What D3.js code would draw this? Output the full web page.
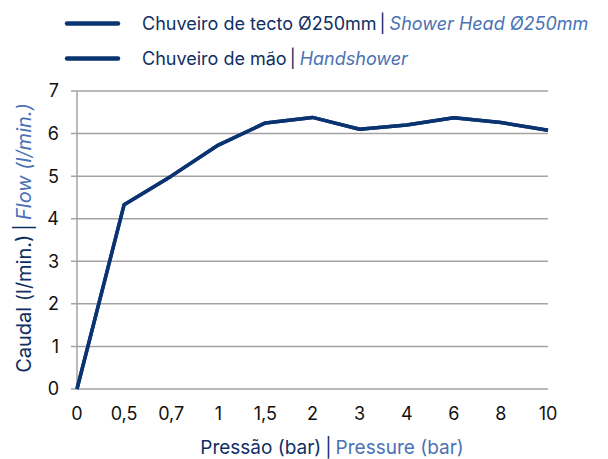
<!DOCTYPE html>
<html>
<head>
<meta charset="utf-8">
<script src="https://cdn.jsdelivr.net/npm/d3@7"></script>
<style>
  body { margin: 0; background: #fff; }
  text { font-family: "Inter", "Roboto", sans-serif; }
</style>
</head>
<body>
<div class="chart-box"></div>
<script>
// chart data
const pressures = ["0", "0,5", "0,7", "1", "1,5", "2", "3", "4", "6", "8", "10"];
const showerHead = [0, 4.33, 5.0, 5.73, 6.25, 6.38, 6.1, 6.2, 6.37, 6.26, 6.08];
const handShower = [0, 4.33, 5.0, 5.73, 6.25, 6.38, 6.1, 6.2, 6.37, 6.26, 6.08];
const yTicks = [0, 1, 2, 3, 4, 5, 6, 7];

const dark = "#0f2f63";
const light = "#4a72b4";
const lineColor = "#0a3471";

const svg = d3.select(".chart-box").append("svg")
    .attr("width", 608)
    .attr("height", 459);

const xScale = d3.scalePoint()
    .domain(pressures)
    .range([77, 548]);
const yScale = d3.scaleLinear()
    .domain([0, 7])
    .range([389, 91]);

//grid lines
svg.append("g")
    .selectAll("line")
    .data(yTicks)
    .enter().append("line")
    .attr("x1", 71)
    .attr("x2", 548)
    .attr("y1", d => yScale(d))
    .attr("y2", d => yScale(d))
    .attr("stroke", "#a3a3a3")
    .attr("stroke-width", 1.5);

//y axis line
svg.append("line")
    .attr("x1", 77).attr("x2", 77)
    .attr("y1", yScale(7)).attr("y2", yScale(0))
    .attr("stroke", "#a3a3a3")
    .attr("stroke-width", 1.5);

//y labels
svg.append("g")
    .selectAll("text")
    .data(yTicks)
    .enter().append("text")
    .attr("x", 59)
    .attr("y", d => yScale(d))
    .attr("dy", "0.36em")
    .attr("text-anchor", "end")
    .attr("font-size", "18px")
    .attr("fill", "#111")
    .text(d => d);

//x labels
svg.append("g")
    .selectAll("text")
    .data(pressures)
    .enter().append("text")
    .attr("x", d => xScale(d))
    .attr("y", 420)
    .attr("text-anchor", "middle")
    .attr("font-size", "18px")
    .attr("fill", "#111")
    .text(d => d);

//lines
const line = d3.line()
    .x((d, i) => xScale(pressures[i]))
    .y(d => yScale(d));

[showerHead, handShower].forEach(s => {
    svg.append("path")
        .datum(s)
        .attr("d", line)
        .attr("fill", "none")
        .attr("stroke", lineColor)
        .attr("stroke-width", 3.5)
        .attr("stroke-linejoin", "round");
});

//legend
const legend = [
    { pt: "Chuveiro de tecto Ø250mm", en: "Shower Head Ø250mm", y: 24 },
    { pt: "Chuveiro de mão", en: "Handshower", y: 59 }
];
legend.forEach(l => {
    svg.append("line")
        .attr("x1", 67).attr("x2", 118)
        .attr("y1", l.y - 0.5).attr("y2", l.y - 0.5)
        .attr("stroke", lineColor)
        .attr("stroke-width", 4.5)
        .attr("stroke-linecap", "round");
    const t = svg.append("text")
        .attr("x", 142)
        .attr("y", l.y)
        .attr("dy", "0.35em")
        .attr("font-size", "18px");
    t.append("tspan").attr("fill", dark).text(l.pt);
    t.append("tspan").attr("fill", dark).attr("dx", 3).text("|");
    t.append("tspan").attr("fill", light).attr("dx", 4).attr("font-style", "italic").text(l.en);
});

//x title
const xt = svg.append("text")
    .attr("x", 332)
    .attr("y", 454)
    .attr("text-anchor", "middle")
    .attr("font-size", "19px");
xt.append("tspan").attr("fill", dark).text("Pressão (bar)");
xt.append("tspan").attr("fill", dark).attr("dx", 4).text("|");
xt.append("tspan").attr("fill", light).attr("dx", 4).text("Pressure (bar)");

//y title
const yt = svg.append("text")
    .attr("transform", "translate(31,238) rotate(-90)")
    .attr("text-anchor", "middle")
    .attr("font-size", "20px");
yt.append("tspan").attr("fill", dark).text("Caudal (l/min.)");
yt.append("tspan").attr("fill", dark).attr("dx", 4).text("|");
yt.append("tspan").attr("fill", light).attr("dx", 4).attr("font-style", "italic").text("Flow (l/min.)");
</script>
</body>
</html>
